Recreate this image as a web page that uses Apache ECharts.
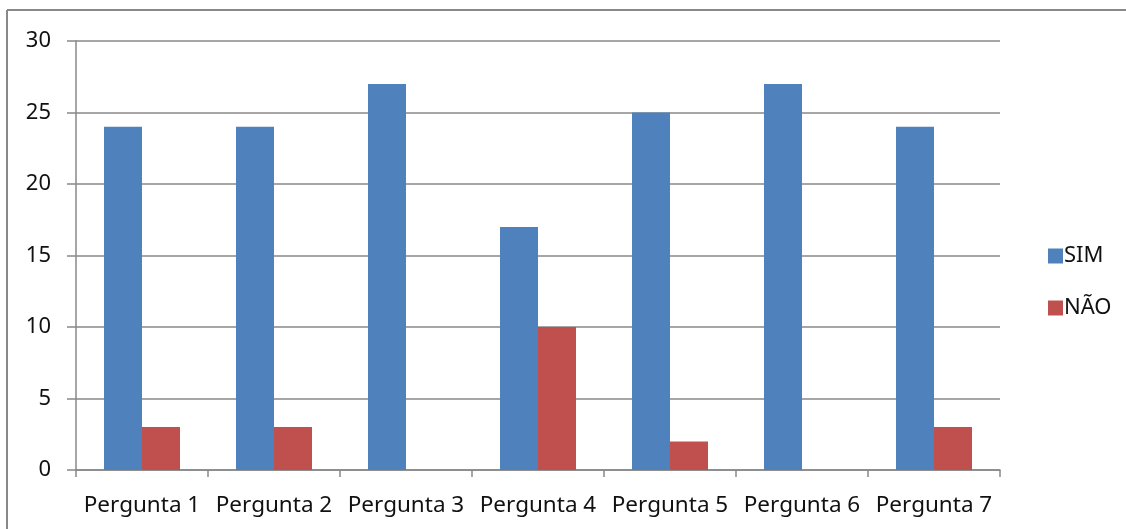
<!DOCTYPE html>
<html>
<head>
<meta charset="utf-8">
<script src="https://cdn.jsdelivr.net/npm/echarts@6/dist/echarts.min.js"></script>
<style>
html,body{margin:0;padding:0;background:#fff;}
#chart{width:1126px;height:529px;}
</style>
</head>
<body>
<div id="chart"></div>
<script>
const categories = ['Pergunta 1','Pergunta 2','Pergunta 3','Pergunta 4','Pergunta 5','Pergunta 6','Pergunta 7'];
const seriesNames = ['SIM','NÃO'];
const simValues = [24, 24, 27, 17, 25, 27, 24];
const naoValues = [3, 3, 0, 10, 2, 0, 3];
const yTicks = [0, 5, 10, 15, 20, 25, 30];

const FONT = 'Noto Sans';
const chart = echarts.init(document.getElementById('chart'), null, {renderer:'canvas'});
chart.setOption({
  animation:false,
  backgroundColor:'#fff',
  textStyle:{fontFamily:FONT},
  graphic:[
    {type:'line', shape:{x1:7, y1:10, x2:1126, y2:10}, style:{stroke:'#888', lineWidth:2}},
    {type:'line', shape:{x1:7, y1:10, x2:7, y2:529}, style:{stroke:'#888', lineWidth:2}}
  ],
  grid:{left:76, right:126, top:41, bottom:59, containLabel:false},
  legend:{
    orient:'vertical', left:1043, top:240,
    itemWidth:15, itemHeight:15, itemGap:30,
    icon:'rect',
    textStyle:{fontFamily:FONT, fontSize:22, color:'#111', padding:[0,0,0,-4]},
    data:seriesNames
  },
  xAxis:{
    type:'category', data:categories, boundaryGap:true,
    axisLine:{lineStyle:{color:'#888', width:1.5}},
    axisTick:{show:true, length:7, alignWithLabel:false, lineStyle:{color:'#888', width:1.5}},
    axisLabel:{color:'#111', fontFamily:FONT, fontSize:22.5, margin:24, interval:0}
  },
  yAxis:{
    type:'value', min:yTicks[0], max:yTicks[yTicks.length-1], interval:5,
    axisLine:{show:true, lineStyle:{color:'#888', width:1.5}},
    axisTick:{show:true, length:9, lineStyle:{color:'#888', width:1.5}},
    axisLabel:{color:'#111', fontFamily:FONT, fontSize:22, margin:25},
    splitLine:{show:true, lineStyle:{color:'#888', width:1.5}}
  },
  series:[
    {name:seriesNames[0], type:'bar', data:simValues, barWidth:38, barGap:'0%', itemStyle:{color:'#4F81BD'}},
    {name:seriesNames[1], type:'bar', data:naoValues, barWidth:38, barGap:'0%', itemStyle:{color:'#C0504D'}}
  ]
});
</script>
</body>
</html>
